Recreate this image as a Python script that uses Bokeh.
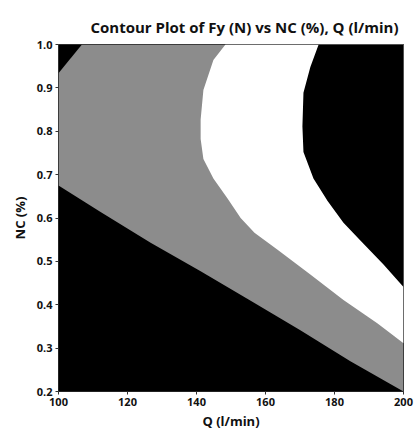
from bokeh.plotting import figure
from bokeh.models import Range1d, FixedTicker
from bokeh.embed import file_html
from bokeh.resources import INLINE

# Axis extents
Q_MIN, Q_MAX = 100, 200
NC_MIN, NC_MAX = 0.2, 1.0

q_ticks = [100, 120, 140, 160, 180, 200]
nc_ticks = [0.2, 0.3, 0.4, 0.5, 0.6, 0.7, 0.8, 0.9, 1.0]

# Contour boundaries of Fy (N) in the (Q, NC) plane
# lowest band / middle band boundary (bottom-left)
low_q = [100.0, 112.2, 126.7, 141.2, 155.7, 170.1, 184.6, 200.0]
low_nc = [0.675, 0.614, 0.543, 0.477, 0.409, 0.341, 0.270, 0.200]

# middle band / upper band boundary
mid_q = [148.4, 144.9, 142.0, 141.2, 141.2, 142.0, 144.9, 149.0, 152.8, 156.8, 163.5, 173.0, 182.6, 192.5, 200.0]
mid_nc = [1.000, 0.964, 0.895, 0.827, 0.782, 0.736, 0.691, 0.645, 0.600, 0.566, 0.527, 0.470, 0.411, 0.357, 0.311]

# upper band / top band boundary (top-right)
high_q = [175.4, 173.0, 171.0, 170.7, 171.0, 173.9, 178.0, 182.6, 187.5, 194.2, 200.0]
high_nc = [1.000, 0.948, 0.889, 0.811, 0.752, 0.691, 0.639, 0.589, 0.548, 0.493, 0.441]

# small low-level pocket in the top-left corner
corner_q = [100.0, 103.3, 106.8]
corner_nc = [0.934, 0.966, 1.000]

BAND_COLORS = ["#000000", "#8c8c8c", "#ffffff", "#000000"]

p = figure(width=419, height=432, output_backend="svg", toolbar_location=None,
           x_range=Range1d(Q_MIN, Q_MAX), y_range=Range1d(NC_MIN, NC_MAX),
           min_border_left=58, min_border_right=16, min_border_top=44, min_border_bottom=36,
           title="Contour Plot of Fy (N) vs NC (%), Q (l/min)")

p.background_fill_color = BAND_COLORS[0]
p.border_fill_color = "white"
p.outline_line_color = "#222222"
p.outline_line_width = 1
p.grid.visible = False

# filled bands, stacked from the lowest level upwards
band_xs = [
    low_q + [Q_MAX, Q_MIN],
    mid_q + [Q_MAX],
    high_q + [Q_MAX],
    corner_q + [Q_MIN],
]
band_ys = [
    low_nc + [NC_MAX, NC_MAX],
    mid_nc + [NC_MAX],
    high_nc + [NC_MAX],
    corner_nc + [NC_MAX],
]
band_fill = [BAND_COLORS[1], BAND_COLORS[2], BAND_COLORS[3], BAND_COLORS[0]]
p.patches(band_xs, band_ys, fill_color=band_fill, line_color=None)

# title
p.title.text_font = "Open Sans"
p.title.text_font_size = "15px"
p.title.text_font_style = "bold"
p.title.text_color = "#111111"
p.title.align = "left"
p.title.offset = 32
p.title.standoff = 16

# axes
p.xaxis.ticker = FixedTicker(ticks=q_ticks)
p.yaxis.ticker = FixedTicker(ticks=nc_ticks)
p.yaxis.major_label_overrides = {t: f"{t:.1f}" for t in nc_ticks}
p.xaxis.axis_label = "Q (l/min)"
p.yaxis.axis_label = "NC (%)"
for ax in (p.xaxis, p.yaxis):
    ax.axis_line_color = None
    ax.major_tick_line_color = "#333333"
    ax.major_tick_out = 3
    ax.major_tick_in = 0
    ax.minor_tick_line_color = None
    ax.major_label_text_font = "Open Sans"
    ax.major_label_text_font_style = "bold"
    ax.major_label_text_font_size = "11px"
    ax.major_label_text_color = "#111111"
    ax.axis_label_text_font = "Open Sans"
    ax.axis_label_text_font_style = "bold"
    ax.axis_label_text_font_size = "13px"
    ax.axis_label_text_color = "#111111"
    ax.major_label_standoff = 3
p.xaxis.axis_label_standoff = 3
p.yaxis.axis_label_standoff = 5

open("out.html", "w").write(file_html(p, INLINE))
